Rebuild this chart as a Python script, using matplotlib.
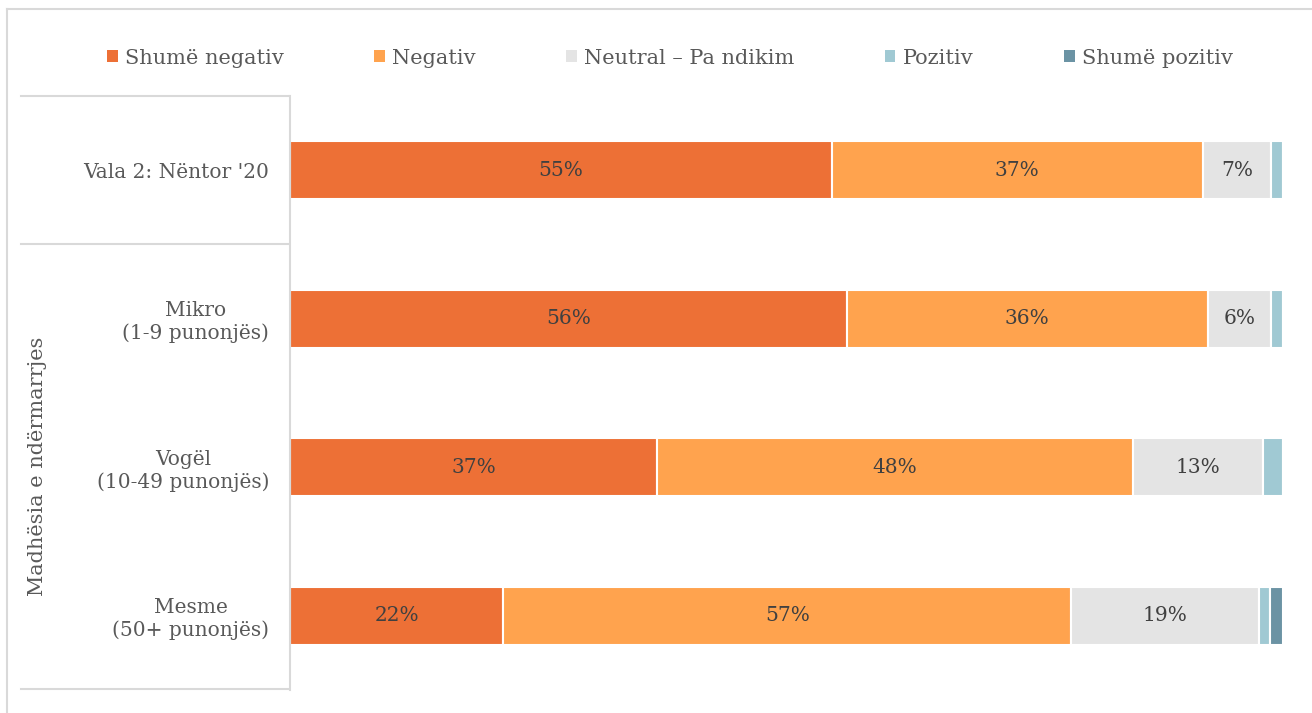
import matplotlib
matplotlib.use("Agg")
import matplotlib.pyplot as plt
from matplotlib.lines import Line2D
from matplotlib.patches import Patch
import numpy as np

plt.rcParams['font.family'] = ['DejaVu Serif']

categories = ["Vala 2: Nëntor '20", "Mikro\n(1-9 punonjës)", "Vogël\n(10-49 punonjës)", "Mesme\n(50+ punonjës)"]
series_names = ["Shumë negativ", "Negativ", "Neutral – Pa ndikim", "Pozitiv", "Shumë pozitiv"]
shume_negativ = [54.6, 56.1, 37.0, 21.5]
negativ = [37.3, 36.3, 47.9, 57.2]
neutral = [6.9, 6.4, 13.1, 18.9]
pozitiv = [1.2, 1.2, 2.0, 1.1]
shume_pozitiv = [0.0, 0.0, 0.0, 1.3]
group_label = "Madhësia e ndërmarrjes"

colors = ["#ED7036", "#FFA34E", "#E4E4E4", "#A0C9D3", "#6B93A4"]
series = [shume_negativ, negativ, neutral, pozitiv, shume_pozitiv]

W, H = 1312, 713
fig = plt.figure(figsize=(W / 100, H / 100), dpi=100)
ax = fig.add_axes([290 / W, (H - 690) / H, (1283 - 290) / W, (690 - 96) / H])

y = np.arange(len(categories))
left = np.zeros(len(categories))
for name, vals, c in zip(series_names, series, colors):
    vals = np.array(vals)
    ax.barh(y, vals, left=left, height=0.39, color=c, edgecolor="white",
            linewidth=1.5, label=name)
    for yi, (l, v) in enumerate(zip(left, vals)):
        if v >= 5:
            ax.text(l + v / 2, yi, f"{round(v)}%", ha="center", va="center",
                    fontsize=14.5, color="#404040")
    left = left + vals

total = max(left)
ax.set_xlim(0, total)
ax.set_ylim(len(categories) - 0.5, -0.5)
ax.set_xticks([])
ax.set_yticks(y)
ax.set_yticklabels(categories, fontsize=14.5, color="#595959", multialignment="center")
ax.tick_params(axis="y", length=0, pad=15)
for s in ["top", "right", "bottom"]:
    ax.spines[s].set_visible(False)
ax.spines["left"].set_color("#D9D9D9")
ax.spines["left"].set_linewidth(1.5)

lc = "#D9D9D9"
def fline(x0, y0, x1, y1):
    fig.add_artist(Line2D([x0 / W, x1 / W], [1 - y0 / H, 1 - y1 / H], color=lc,
                          lw=1.5, transform=fig.transFigure))

# chart frame
fline(7, 9, W, 9)
fline(7, 9, 7, H)
# group separators
fline(21, 96, 289, 96)
fline(21, 244, 289, 244)
fline(21, 689, 289, 689)

fig.text(38 / W, 1 - 466 / H, group_label, rotation=90, ha="center", va="center",
         fontsize=15, color="#595959")

handles = [Patch(facecolor=c, edgecolor="none") for c in colors]
fig.legend(handles, series_names, loc="center", bbox_to_anchor=(670 / W, 1 - 58 / H),
           ncol=5, frameon=False, fontsize=15, labelcolor="#595959",
           handlelength=0.5, handleheight=0.5, handletextpad=0.35, columnspacing=4.35)

fig.savefig("out.png", dpi=100, facecolor="white")
